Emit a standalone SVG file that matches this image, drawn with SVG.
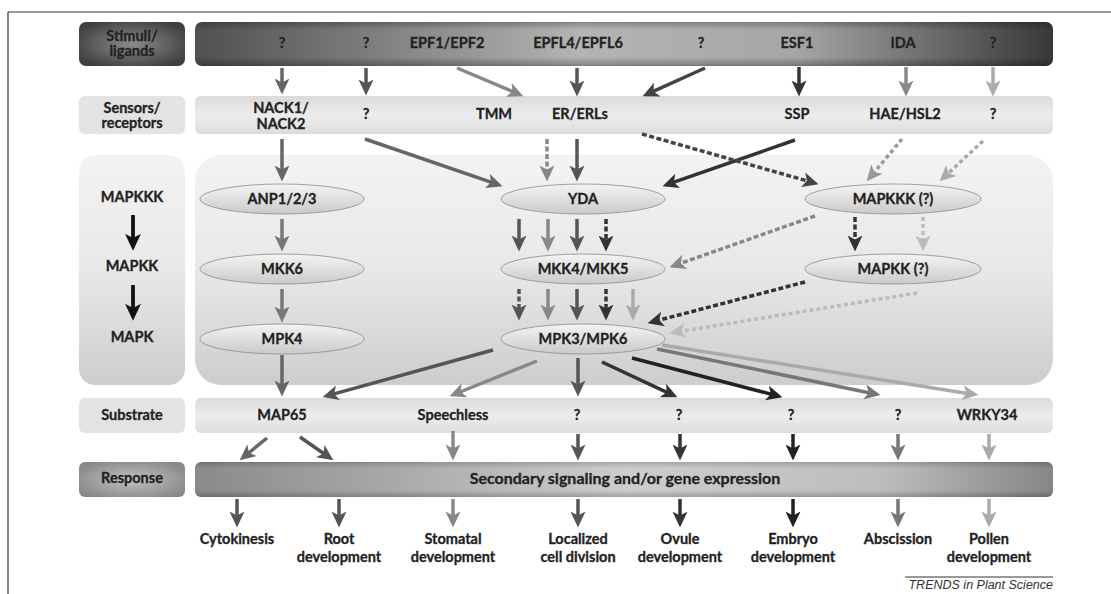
<svg xmlns="http://www.w3.org/2000/svg" width="1111" height="594" viewBox="0 0 1111 594">
<style>
.t{font-family:Lato,"Liberation Sans",sans-serif;font-weight:700;font-size:14.5px;fill:#222;stroke:#222;stroke-width:0.3px;text-anchor:middle}
.a{fill:none;stroke-width:3.5}
.d{stroke-dasharray:5 2.5}
.dl{stroke-dasharray:4 3}
</style>
<defs>
<linearGradient id="gStim" x1="0" y1="0" x2="1" y2="0">
<stop offset="0" stop-color="#505050"/><stop offset="0.45" stop-color="#b4b4b4"/><stop offset="0.7" stop-color="#a6a6a6"/><stop offset="1" stop-color="#383838"/>
</linearGradient>
<linearGradient id="gResp" x1="0" y1="0" x2="1" y2="0">
<stop offset="0" stop-color="#8a8a8a"/><stop offset="0.5" stop-color="#cdcdcd"/><stop offset="0.8" stop-color="#bdbdbd"/><stop offset="1" stop-color="#868686"/>
</linearGradient>
<linearGradient id="gShade" x1="0" y1="0" x2="0" y2="1">
<stop offset="0" stop-color="#000" stop-opacity="0.25"/><stop offset="0.18" stop-color="#000" stop-opacity="0"/><stop offset="0.8" stop-color="#000" stop-opacity="0"/><stop offset="1" stop-color="#000" stop-opacity="0.3"/>
</linearGradient>
<linearGradient id="gLight" x1="0" y1="0" x2="0" y2="1">
<stop offset="0" stop-color="#dadada"/><stop offset="0.5" stop-color="#ededed"/><stop offset="1" stop-color="#dcdcdc"/>
</linearGradient>
<linearGradient id="gPanel" x1="0" y1="0" x2="0" y2="1">
<stop offset="0" stop-color="#f3f3f3"/><stop offset="0.5" stop-color="#e8e8e8"/><stop offset="1" stop-color="#cdcdcd"/>
</linearGradient>
<linearGradient id="gEll" x1="0" y1="0" x2="0" y2="1">
<stop offset="0" stop-color="#f4f4f4"/><stop offset="1" stop-color="#cacaca"/>
</linearGradient>
<radialGradient id="gStimL" cx="0.5" cy="0.5" r="0.6">
<stop offset="0" stop-color="#8c8c8c"/><stop offset="1" stop-color="#3e3e3e"/>
</radialGradient>
<radialGradient id="gRespL" cx="0.5" cy="0.5" r="0.6">
<stop offset="0" stop-color="#c2c2c2"/><stop offset="1" stop-color="#888"/>
</radialGradient>
<marker id="m222" viewBox="0 0 16 16" refX="11.5" refY="8" markerWidth="16" markerHeight="16" markerUnits="userSpaceOnUse" orient="auto"><path d="M0,0.5 L16,8 L0,15.5 L4,8z" fill="#222"/></marker>
<marker id="m333" viewBox="0 0 16 16" refX="11.5" refY="8" markerWidth="16" markerHeight="16" markerUnits="userSpaceOnUse" orient="auto"><path d="M0,0.5 L16,8 L0,15.5 L4,8z" fill="#333"/></marker>
<marker id="m444" viewBox="0 0 16 16" refX="11.5" refY="8" markerWidth="16" markerHeight="16" markerUnits="userSpaceOnUse" orient="auto"><path d="M0,0.5 L16,8 L0,15.5 L4,8z" fill="#444"/></marker>
<marker id="m555" viewBox="0 0 16 16" refX="11.5" refY="8" markerWidth="16" markerHeight="16" markerUnits="userSpaceOnUse" orient="auto"><path d="M0,0.5 L16,8 L0,15.5 L4,8z" fill="#555"/></marker>
<marker id="m666" viewBox="0 0 16 16" refX="11.5" refY="8" markerWidth="16" markerHeight="16" markerUnits="userSpaceOnUse" orient="auto"><path d="M0,0.5 L16,8 L0,15.5 L4,8z" fill="#666"/></marker>
<marker id="m777" viewBox="0 0 16 16" refX="11.5" refY="8" markerWidth="16" markerHeight="16" markerUnits="userSpaceOnUse" orient="auto"><path d="M0,0.5 L16,8 L0,15.5 L4,8z" fill="#777"/></marker>
<marker id="m888" viewBox="0 0 16 16" refX="11.5" refY="8" markerWidth="16" markerHeight="16" markerUnits="userSpaceOnUse" orient="auto"><path d="M0,0.5 L16,8 L0,15.5 L4,8z" fill="#888"/></marker>
<marker id="m999" viewBox="0 0 16 16" refX="11.5" refY="8" markerWidth="16" markerHeight="16" markerUnits="userSpaceOnUse" orient="auto"><path d="M0,0.5 L16,8 L0,15.5 L4,8z" fill="#999"/></marker>
<marker id="maaa" viewBox="0 0 16 16" refX="11.5" refY="8" markerWidth="16" markerHeight="16" markerUnits="userSpaceOnUse" orient="auto"><path d="M0,0.5 L16,8 L0,15.5 L4,8z" fill="#aaa"/></marker>
<marker id="mbbb" viewBox="0 0 16 16" refX="11.5" refY="8" markerWidth="16" markerHeight="16" markerUnits="userSpaceOnUse" orient="auto"><path d="M0,0.5 L16,8 L0,15.5 L4,8z" fill="#bbb"/></marker>
<marker id="mblk" viewBox="0 0 16 16" refX="11.5" refY="8" markerWidth="17" markerHeight="17" markerUnits="userSpaceOnUse" orient="auto"><path d="M0,0.5 L16,8 L0,15.5 L4,8z" fill="#111"/></marker>
</defs>
<rect x="0" y="0" width="1111" height="594" fill="#fff"/>
<g id="frame" stroke="#333" stroke-width="1.2" fill="none">
<line x1="8" y1="12" x2="1111" y2="12"/>
<line x1="8" y1="12" x2="8" y2="594"/>
</g>

<g id="lbl-stimuli">
<rect x="79" y="22" width="106" height="44" rx="7" fill="url(#gStimL)"/>
<text class="t" x="132" y="41">Stimuli/</text><text class="t" x="132" y="56">ligands</text>
</g>
<g id="lbl-sensors">
<rect x="79" y="96" width="106" height="38" rx="6" fill="#e3e3e3"/>
<text class="t" x="132" y="113">Sensors/</text><text class="t" x="132" y="128">receptors</text>
</g>
<g id="lbl-mapk">
<rect x="79" y="155" width="106" height="230" rx="16" fill="url(#gPanel)"/>
<text class="t" x="132" y="202">MAPKKK</text>
<text class="t" x="132" y="271">MAPKK</text>
<text class="t" x="132" y="342">MAPK</text>
<line x1="133" y1="215" x2="133" y2="246" stroke="#111" stroke-width="3.8" marker-end="url(#mblk)"/>
<line x1="133" y1="285" x2="133" y2="316" stroke="#111" stroke-width="3.8" marker-end="url(#mblk)"/>
</g>
<g id="lbl-substrate">
<rect x="79" y="398" width="106" height="35" rx="6" fill="#e3e3e3"/>
<text class="t" x="132" y="420">Substrate</text>
</g>
<g id="lbl-response">
<rect x="79" y="462" width="106" height="35" rx="6" fill="url(#gRespL)"/>
<text class="t" x="132" y="483">Response</text>
</g>

<g id="stimuli">
<rect x="195" y="22" width="858" height="44" rx="7" fill="url(#gStim)"/>
<rect x="195" y="22" width="858" height="44" rx="7" fill="url(#gShade)"/>
<text class="t" x="282" y="48">?</text>
<text class="t" x="366" y="48">?</text>
<text class="t" x="447" y="48">EPF1/EPF2</text>
<text class="t" x="578" y="48">EPFL4/EPFL6</text>
<text class="t" x="701" y="48">?</text>
<text class="t" x="797" y="48">ESF1</text>
<text class="t" x="903" y="48">IDA</text>
<text class="t" x="993" y="48">?</text>
</g>
<g id="sensors">
<rect x="195" y="96" width="858" height="38" rx="6" fill="url(#gLight)"/>
<text class="t" x="281" y="113">NACK1/</text><text class="t" x="281" y="129">NACK2</text>
<text class="t" x="366" y="119">?</text>
<text class="t" x="494" y="119">TMM</text>
<text class="t" x="580" y="119">ER/ERLs</text>
<text class="t" x="797" y="119">SSP</text>
<text class="t" x="905" y="119">HAE/HSL2</text>
<text class="t" x="993" y="119">?</text>
</g>
<g id="mapk-panel">
<rect x="195" y="155" width="858" height="230" rx="26" fill="url(#gPanel)"/>
</g>
<g id="substrate">
<rect x="195" y="398" width="858" height="35" rx="6" fill="url(#gLight)"/>
<text class="t" x="282" y="420">MAP65</text>
<text class="t" x="453" y="420">Speechless</text>
<text class="t" x="577" y="420">?</text>
<text class="t" x="679" y="420">?</text>
<text class="t" x="791" y="420">?</text>
<text class="t" x="898" y="420">?</text>
<text class="t" x="987" y="420">WRKY34</text>
</g>
<g id="response">
<rect x="195" y="462" width="858" height="35" rx="6" fill="url(#gResp)"/>
<rect x="195" y="462" width="858" height="35" rx="6" fill="url(#gShade)" opacity="0.7"/>
<text class="t" x="625" y="484" style="font-size:16px">Secondary signaling and/or gene expression</text>
</g>

<g id="anp"><ellipse cx="282" cy="199" rx="82" ry="15" fill="url(#gEll)" stroke="#8a8a8a" stroke-width="0.8"/><text class="t" x="282" y="204">ANP1/2/3</text></g>
<g id="mkk6"><ellipse cx="282" cy="269" rx="82" ry="15" fill="url(#gEll)" stroke="#8a8a8a" stroke-width="0.8"/><text class="t" x="282" y="274">MKK6</text></g>
<g id="mpk4"><ellipse cx="282" cy="339" rx="82" ry="15" fill="url(#gEll)" stroke="#8a8a8a" stroke-width="0.8"/><text class="t" x="282" y="344">MPK4</text></g>
<g id="yda"><ellipse cx="583" cy="199" rx="82" ry="15" fill="url(#gEll)" stroke="#8a8a8a" stroke-width="0.8"/><text class="t" x="583" y="204">YDA</text></g>
<g id="mkk45"><ellipse cx="583" cy="269" rx="82" ry="15" fill="url(#gEll)" stroke="#8a8a8a" stroke-width="0.8"/><text class="t" x="583" y="274">MKK4/MKK5</text></g>
<g id="mpk36"><ellipse cx="583" cy="339" rx="82" ry="15" fill="url(#gEll)" stroke="#8a8a8a" stroke-width="0.8"/><text class="t" x="583" y="344">MPK3/MPK6</text></g>
<g id="mapkkk"><ellipse cx="893" cy="199" rx="88" ry="15" fill="url(#gEll)" stroke="#8a8a8a" stroke-width="0.8"/><text class="t" x="893" y="204">MAPKKK (?)</text></g>
<g id="mapkk"><ellipse cx="893" cy="269" rx="88" ry="15" fill="url(#gEll)" stroke="#8a8a8a" stroke-width="0.8"/><text class="t" x="893" y="274">MAPKK (?)</text></g>

<g id="outputs">
<text class="t" x="237" y="544">Cytokinesis</text>
<text class="t" x="339" y="544">Root</text><text class="t" x="339" y="562">development</text>
<text class="t" x="453" y="544">Stomatal</text><text class="t" x="453" y="562">development</text>
<text class="t" x="578" y="544">Localized</text><text class="t" x="578" y="562">cell division</text>
<text class="t" x="680" y="544">Ovule</text><text class="t" x="680" y="562">development</text>
<text class="t" x="793" y="544">Embryo</text><text class="t" x="793" y="562">development</text>
<text class="t" x="898" y="544">Abscission</text>
<text class="t" x="989" y="544">Pollen</text><text class="t" x="989" y="562">development</text>
</g>

<g id="connectors">
<line class="a" x1="282" y1="68" x2="282" y2="90" stroke="#666" marker-end="url(#m666)"/>
<line class="a" x1="366" y1="68" x2="366" y2="91" stroke="#555" marker-end="url(#m555)"/>
<line class="a" x1="457" y1="68" x2="519.3" y2="94.4" stroke="#888" marker-end="url(#m888)"/>
<line class="a" x1="577" y1="68" x2="577" y2="92" stroke="#555" marker-end="url(#m555)"/>
<line class="a" x1="705" y1="68" x2="646.6" y2="94.4" stroke="#444" marker-end="url(#m444)"/>
<line class="a" x1="799" y1="67" x2="799" y2="92" stroke="#333" marker-end="url(#m333)"/>
<line class="a" x1="906" y1="67" x2="906" y2="92" stroke="#888" marker-end="url(#m888)"/>
<line class="a" x1="993" y1="67" x2="993" y2="92" stroke="#aaa" marker-end="url(#maaa)"/>

<line class="a" x1="282" y1="139" x2="282" y2="177" stroke="#666" marker-end="url(#m666)"/>
<line class="a" x1="365" y1="139" x2="498.2" y2="184.7" stroke="#666" marker-end="url(#m666)"/>
<line class="a d" x1="547" y1="139" x2="547" y2="177" stroke="#888" marker-end="url(#m888)"/>
<line class="a" x1="577" y1="139" x2="577" y2="177" stroke="#555" marker-end="url(#m555)"/>
<line class="a" x1="795" y1="140" x2="666.8" y2="184.7" stroke="#333" marker-end="url(#m333)"/>
<line class="a d" x1="642" y1="134" x2="814.2" y2="182.9" stroke="#444" marker-end="url(#m444)"/>
<line class="a dl" x1="902" y1="139" x2="869.6" y2="177.9" stroke="#999" marker-end="url(#m999)"/>
<line class="a dl" x1="983" y1="141" x2="942.9" y2="178.3" stroke="#aaa" marker-end="url(#maaa)"/>

<line class="a" x1="282" y1="219" x2="282" y2="247" stroke="#777" marker-end="url(#m777)"/>
<line class="a" x1="282" y1="289" x2="282" y2="318" stroke="#777" marker-end="url(#m777)"/>

<line class="a" x1="519" y1="219" x2="519" y2="247" stroke="#555" marker-end="url(#m555)"/>
<line class="a" x1="548" y1="219" x2="548" y2="247" stroke="#888" marker-end="url(#m888)"/>
<line class="a" x1="577" y1="219" x2="577" y2="247" stroke="#555" marker-end="url(#m555)"/>
<line class="a d" x1="606" y1="219" x2="606" y2="247" stroke="#333" marker-end="url(#m333)"/>

<line class="a d" x1="519" y1="289" x2="519" y2="316" stroke="#555" marker-end="url(#m555)"/>
<line class="a" x1="548" y1="289" x2="548" y2="316" stroke="#888" marker-end="url(#m888)"/>
<line class="a" x1="577" y1="289" x2="577" y2="316" stroke="#555" marker-end="url(#m555)"/>
<line class="a d" x1="606" y1="289" x2="606" y2="316" stroke="#333" marker-end="url(#m333)"/>
<line class="a" x1="633" y1="289" x2="633" y2="316" stroke="#aaa" marker-end="url(#maaa)"/>

<line class="a d" x1="855" y1="217" x2="855" y2="247" stroke="#333" marker-end="url(#m333)"/>
<line class="a dl" x1="923" y1="217" x2="923" y2="247" stroke="#bbb" marker-end="url(#mbbb)"/>
<line class="a d" x1="815" y1="216" x2="673.8" y2="265.7" stroke="#888" marker-end="url(#m888)"/>
<line class="a d" x1="805" y1="282" x2="651.9" y2="322" stroke="#333" marker-end="url(#m333)"/>
<line class="a dl" x1="917" y1="293" x2="673.9" y2="332.4" stroke="#bbb" stroke-width="2.2" marker-end="url(#mbbb)"/>

<line class="a" x1="282" y1="355" x2="282" y2="392" stroke="#666" marker-end="url(#m666)"/>
<line class="a" x1="493" y1="350" x2="326.9" y2="395.9" stroke="#555" marker-end="url(#m555)"/>
<line class="a" x1="537" y1="361" x2="453.7" y2="394.5" stroke="#888" marker-end="url(#m888)"/>
<line class="a" x1="578" y1="358" x2="578" y2="392" stroke="#555" marker-end="url(#m555)"/>
<line class="a" x1="602" y1="362" x2="673.4" y2="395.3" stroke="#333" marker-end="url(#m333)"/>
<line class="a" x1="632" y1="358" x2="778.1" y2="396" stroke="#222" marker-end="url(#m222)"/>
<line class="a" x1="657" y1="349" x2="876.1" y2="394.2" stroke="#777" marker-end="url(#m777)"/>
<line class="a" x1="662" y1="345" x2="974" y2="394.4" stroke="#aaa" marker-end="url(#maaa)"/>

<line class="a" x1="267" y1="438" x2="243.1" y2="457.5" stroke="#666" marker-end="url(#m666)"/>
<line class="a" x1="300" y1="437" x2="329.7" y2="457.7" stroke="#555" marker-end="url(#m555)"/>
<line class="a" x1="453" y1="431" x2="453" y2="456" stroke="#888" marker-end="url(#m888)"/>
<line class="a" x1="578" y1="434" x2="578" y2="456" stroke="#555" marker-end="url(#m555)"/>
<line class="a" x1="680" y1="434" x2="680" y2="456" stroke="#333" marker-end="url(#m333)"/>
<line class="a" x1="793" y1="434" x2="793" y2="456" stroke="#222" marker-end="url(#m222)"/>
<line class="a" x1="898" y1="434" x2="898" y2="456" stroke="#777" marker-end="url(#m777)"/>
<line class="a" x1="989" y1="434" x2="989" y2="456" stroke="#aaa" marker-end="url(#maaa)"/>

<line class="a" x1="237" y1="499" x2="237" y2="523" stroke="#555" marker-end="url(#m555)"/>
<line class="a" x1="339" y1="499" x2="339" y2="523" stroke="#555" marker-end="url(#m555)"/>
<line class="a" x1="453" y1="499" x2="453" y2="523" stroke="#888" marker-end="url(#m888)"/>
<line class="a" x1="578" y1="499" x2="578" y2="523" stroke="#555" marker-end="url(#m555)"/>
<line class="a" x1="680" y1="499" x2="680" y2="523" stroke="#333" marker-end="url(#m333)"/>
<line class="a" x1="793" y1="499" x2="793" y2="523" stroke="#222" marker-end="url(#m222)"/>
<line class="a" x1="898" y1="499" x2="898" y2="523" stroke="#777" marker-end="url(#m777)"/>
<line class="a" x1="989" y1="499" x2="989" y2="523" stroke="#aaa" marker-end="url(#maaa)"/>
</g>

<g id="source">
<line x1="905" y1="577" x2="1053" y2="577" stroke="#333" stroke-width="1"/>
<text x="1053" y="589" font-family="'Liberation Sans',Arial,sans-serif" font-style="italic" font-size="12.5" fill="#333" text-anchor="end">TRENDS in Plant Science</text>
</g>
</svg>
